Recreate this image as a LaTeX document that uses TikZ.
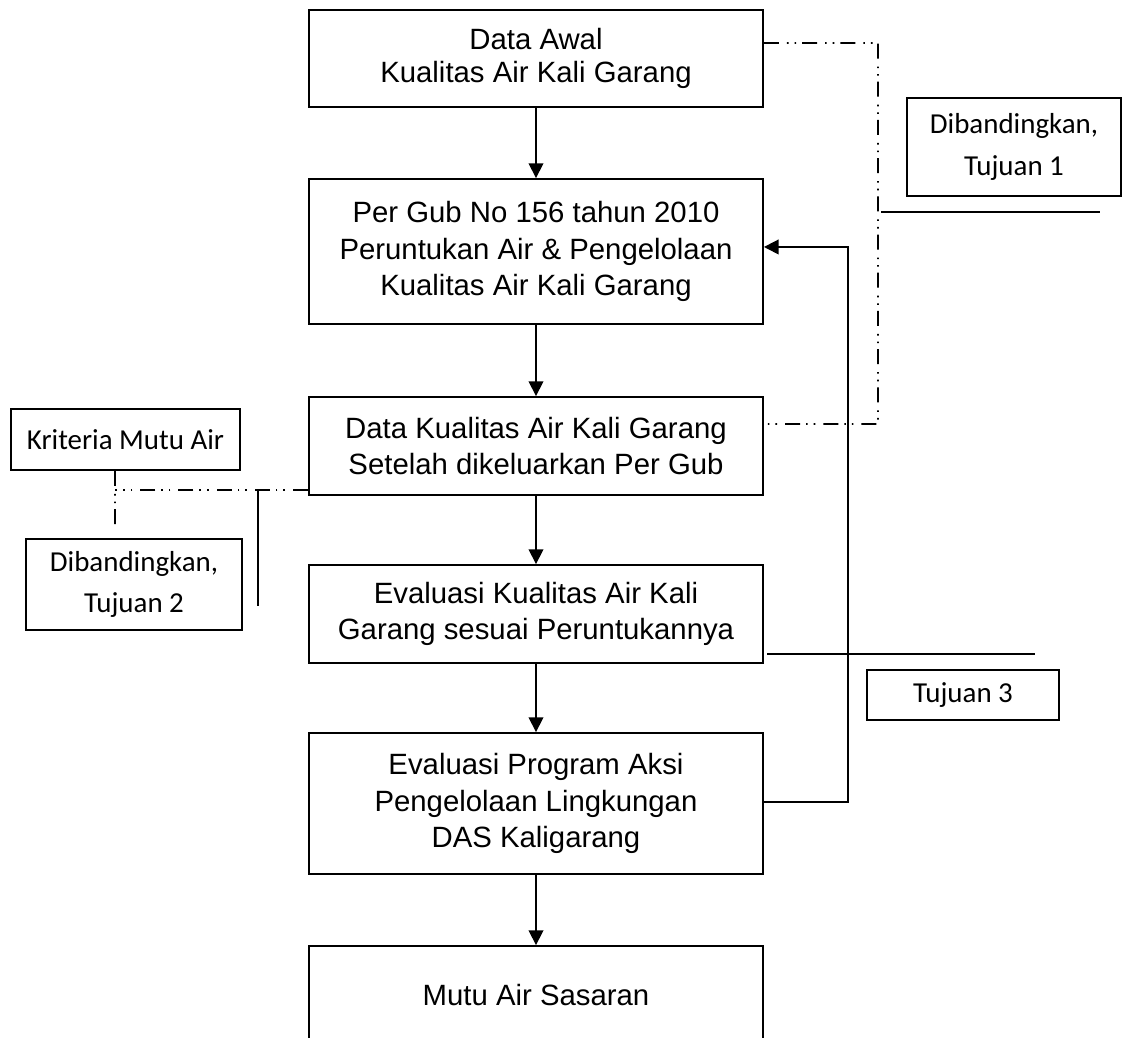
\documentclass[tikz,border=0pt]{standalone}
\usepackage{fontspec}
\setmainfont{Liberation Sans}
\newfontfamily\calib{Carlito}
\usetikzlibrary{arrows.meta,calc}
\begin{document}
\begin{tikzpicture}[x=0.75pt,y=-0.75pt,
  mainbox/.style={draw,line width=1.4pt,minimum width=340.5pt,align=center,
    font=\fontsize{22}{27.5}\selectfont,inner sep=0pt},
  sidebox/.style={draw,line width=1.4pt,align=center,
    font=\calib\fontsize{21.7}{31}\selectfont,inner sep=0pt},
  conn/.style={line width=1.2pt},
  arr/.style={conn,-{Triangle[length=11pt,width=11pt]}},
  dd/.style={line width=1.3pt,dash pattern=on 11.25pt off 6pt on 1.2pt off 4.5pt on 1.2pt off 4.5pt}]
\useasboundingbox (0,0) rectangle (1122,1038);
\clip (0,0) rectangle (1122,1038);

% main column
\node[mainbox,minimum height=72.75pt,font=\fontsize{22}{24.75}\selectfont] (b1) at (536,58.5)
  {Data Awal\\Kualitas Air Kali Garang};
\node[mainbox,minimum height=108.75pt] (b2) at (536,251.5)
  {Per Gub No 156 tahun 2010\\Peruntukan Air \& Pengelolaan\\Kualitas Air Kali Garang};
\node[mainbox,minimum height=73.5pt] (b3) at (536,446)
  {Data Kualitas Air Kali Garang\\Setelah dikeluarkan Per Gub};
\node[mainbox,minimum height=73.5pt] (b4) at (536,614)
  {Evaluasi Kualitas Air Kali\\Garang sesuai Peruntukannya};
\node[mainbox,minimum height=105.75pt] (b5) at (536,803.5)
  {Evaluasi Program Aksi\\Pengelolaan Lingkungan\\DAS Kaligarang};
\node[mainbox,minimum height=73.5pt] (b6) at (536,995)
  {Mutu Air Sasaran};

% side boxes
\node[sidebox,minimum width=160.5pt,minimum height=73.5pt] (t1) at (1014,147)
  {Dibandingkan,\\Tujuan 1};
\node[sidebox,minimum width=171.75pt,minimum height=45.75pt] (kma) at (125.5,439.5)
  {Kriteria Mutu Air};
\node[sidebox,minimum width=162pt,minimum height=68.25pt] (t2) at (134,584.5)
  {Dibandingkan,\\Tujuan 2};
\node[sidebox,minimum width=144pt,minimum height=37.5pt] (t3) at (963,695)
  {Tujuan 3};

% vertical arrows
\draw[arr] (b1.south) -- (b2.north);
\draw[arr] (b2.south) -- (b3.north);
\draw[arr] (b3.south) -- (b4.north);
\draw[arr] (b4.south) -- (b5.north);
\draw[arr] (b5.south) -- (b6.north);

% feedback arrow
\coordinate (fbB) at (848,802);
\coordinate (fbT) at (848,247);
\draw[arr] ([yshift=1.1pt]b5.east) -- (fbB) -- (fbT) -- ([yshift=3.4pt]b2.east);

% dash-dot connectors, right
\coordinate (dr1) at (878,43);
\coordinate (dr2) at (878,424);
\draw[dd] ([yshift=11.6pt]b1.east) -- (dr1) -- (dr2) -- ([yshift=16.5pt]b3.east);
\coordinate (u1a) at (881,212);
\coordinate (u1b) at (1100,212);
\draw[conn] (u1a) -- (u1b);

% dash-dot connectors, left
\coordinate (dl1) at (115,490);
\coordinate (dl2) at (115,529);
\draw[dd] ([xshift=-7.9pt]kma.south) -- (dl2);
\draw[dd] ([yshift=-33pt]b3.west) -- (dl1);
\coordinate (sl1) at (258,490);
\coordinate (sl2) at (258,606);
\draw[conn] (sl1) -- (sl2);

% line near Tujuan 3
\coordinate (u3a) at (767,654);
\coordinate (u3b) at (1035,654);
\draw[conn] (u3a) -- (u3b);
\end{tikzpicture}
\end{document}
